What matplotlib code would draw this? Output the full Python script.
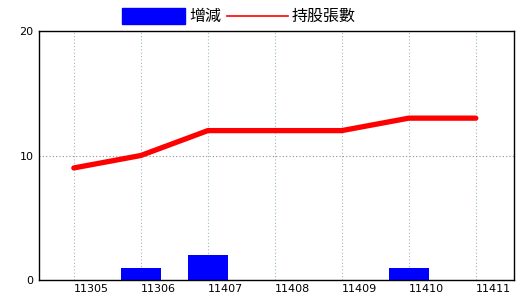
import matplotlib
matplotlib.use("Agg")
import matplotlib.pyplot as plt
from matplotlib.patches import Rectangle
from matplotlib.lines import Line2D
import matplotlib.transforms as mtransforms

plt.rcParams['font.family'] = ['Noto Sans CJK TC', 'DejaVu Sans']

periods = ["11305", "11306", "11407", "11408", "11409", "11410", "11411"]
change = [0, 1, 2, 0, 0, 1, 0]
shares = [9, 10, 12, 12, 12, 13, 13]

fig = plt.figure(figsize=(5.2, 3.0), dpi=100)
ax = fig.add_axes([39/520, 1-280/300, (514-39)/520, (280-31)/300])

x = list(range(len(periods)))
ax.bar(x, change, width=0.6, color="#0000ff", zorder=2)
ax.plot(x, shares, color="#ff0000", linewidth=3.8, solid_capstyle="round",
        solid_joinstyle="round", zorder=3)

ax.set_xlim(-0.52, 6.57)
ax.set_ylim(0, 20)
ax.set_yticks([0, 10, 20])
ax.set_xticks(x)
ax.set_xticklabels(periods, fontsize=8, family=['DejaVu Sans'])
for lab in ax.get_xticklabels():
    lab.set_horizontalalignment('left')
    lab.set_transform(lab.get_transform() + mtransforms.ScaledTranslation(1/100, 0, fig.dpi_scale_trans))
ax.tick_params(axis='both', length=0, labelsize=8)
ax.tick_params(axis='x', pad=3)
ax.tick_params(axis='y', pad=4)
for lab in ax.get_yticklabels():
    lab.set_family(['DejaVu Sans'])

ax.grid(axis='x', color="#a0b8c8", linestyle=(0, (1, 2)), linewidth=0.8, zorder=0)
ax.grid(axis='y', color="#909090", linestyle=(0, (1, 2)), linewidth=0.8, zorder=0)
for s in ax.spines.values():
    s.set_color("black")
    s.set_linewidth(1.0)

# legend
fig.patches.append(Rectangle((122/520, 1-24/300), 63/520, 16/300,
                             transform=fig.transFigure, color="#0000ff", figure=fig))
fig.text(189/520, 1-16/300, "增減", fontsize=11.5, va='center', ha='left')
fig.lines.append(Line2D([227/520, 288/520], [1-16/300, 1-16/300],
                        transform=fig.transFigure, color="#ff0000", linewidth=1.2, figure=fig))
fig.text(292/520, 1-16/300, "持股張數", fontsize=11.5, va='center', ha='left')

fig.savefig("out.png", dpi=100)
